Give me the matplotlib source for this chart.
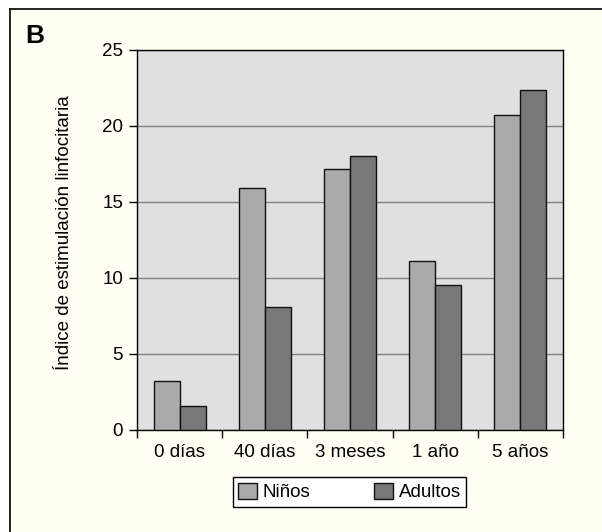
import matplotlib
matplotlib.use("Agg")
import matplotlib.pyplot as plt
import numpy as np
from matplotlib.patches import Rectangle
from matplotlib.lines import Line2D

plt.rcParams['font.family'] = ['Liberation Sans', 'DejaVu Sans']

categories = ["0 días", "40 días", "3 meses", "1 año", "5 años"]
ninos = [3.2, 15.9, 17.15, 11.15, 20.7]
adultos = [1.6, 8.1, 18.0, 9.55, 22.35]
series_names = ["Niños", "Adultos"]
yticks = [0, 5, 10, 15, 20, 25]

W, H = 602, 532
fig = plt.figure(figsize=(W/100, H/100), dpi=100, facecolor='white')

# outer ivory panel with border on left and top
bg = '#FFFFF3'
fig.patches.append(Rectangle((10/W, 0), 1, (H-9)/H, transform=fig.transFigure,
                             facecolor=bg, edgecolor='none', zorder=-2))
fig.lines.append(Line2D([10/W, 10/W], [0, (H-9)/H], transform=fig.transFigure,
                        color='black', lw=1.2, zorder=-1))
fig.lines.append(Line2D([10/W, 1], [(H-9)/H, (H-9)/H], transform=fig.transFigure,
                        color='black', lw=1.2, zorder=-1))

ax = fig.add_axes([137/W, (H-430)/H, (563-137)/W, 380/H])
ax.set_facecolor('#E0E0E0')

x = np.arange(len(categories))
bw = 0.305
ax.bar(x - bw/2, ninos, bw, color='#AAAAAA', edgecolor='#111111', lw=1.0,
       label=series_names[0], zorder=3)
ax.bar(x + bw/2, adultos, bw, color='#787878', edgecolor='#111111', lw=1.0,
       label=series_names[1], zorder=3)

fs = 13.5
ax.set_xlim(-0.5, len(categories) - 0.5)
ax.set_ylim(0, 25)
ax.set_yticks(yticks)
ax.set_yticklabels([str(v) for v in yticks], fontsize=fs)
ax.yaxis.grid(True, color='#808080', lw=1.0, zorder=1)
ax.set_axisbelow(True)

ax.set_xticks(x)
ax.set_xticklabels(categories, fontsize=fs)
ax.tick_params(axis='x', length=0, pad=10)
ax.set_xticks(np.arange(len(categories) + 1) - 0.5, minor=True)
ax.tick_params(axis='x', which='minor', length=6, width=1, direction='out')
ax.tick_params(axis='y', length=6, width=1, direction='out', pad=4)

for s in ax.spines.values():
    s.set_color('black')
    s.set_linewidth(1.0)

fig.text(65/W, 1 - 233/H, "Índice de estimulación linfocitaria", rotation=90,
         ha='center', va='center', fontsize=fs)
fig.text(35/W, 1 - 36/H, "B", fontsize=19, fontweight='bold', ha='center', va='center')

leg = ax.legend(loc='center', bbox_to_anchor=((349.5-137)/(563-137), (430-492)/380),
                ncol=2, fontsize=fs, frameon=True, fancybox=False,
                edgecolor='black', facecolor='white', handlelength=1.0,
                handleheight=1.0, columnspacing=3.4, handletextpad=0.3,
                borderpad=0.3, borderaxespad=0)
leg.get_frame().set_linewidth(1.0)
leg.get_frame().set_alpha(1)

fig.savefig("out.png", dpi=100, facecolor=fig.get_facecolor())
